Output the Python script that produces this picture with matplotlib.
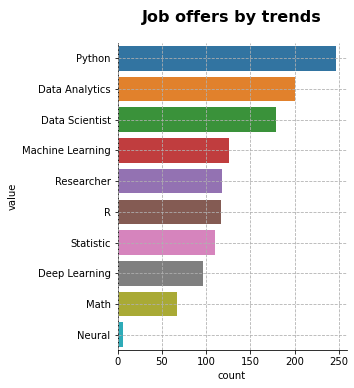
import matplotlib
matplotlib.use('Agg')
from matplotlib import pyplot as plt
import seaborn as sns
import pandas as pd

values = ['Python', 'Data Analytics', 'Data Scientist', 'Machine Learning',
          'Researcher', 'R', 'Statistic', 'Deep Learning', 'Math', 'Neural']
counts = [246, 200, 179, 126, 118, 117, 110, 96, 67, 6]

df = pd.DataFrame({'value': values, 'count': counts})

fig = plt.figure(figsize=(354 / 72, 388 / 72), dpi=72)
ax = fig.add_axes([117.5 / 354, 38 / 388, 229 / 354, 307 / 388])
sns.barplot(data=df, x='count', y='value', hue='value', palette='tab10',
            legend=False, ax=ax)
sns.despine()
ax.grid(True, linestyle='--', color='#b0b0b0', linewidth=0.8)
ax.set_axisbelow(False)
ax.set_title("Job offers by trends", fontsize=16, fontweight='bold', pad=21)
ax.set_xlabel('count')
ax.set_ylabel('value')

plt.savefig('out.png', dpi=72)
